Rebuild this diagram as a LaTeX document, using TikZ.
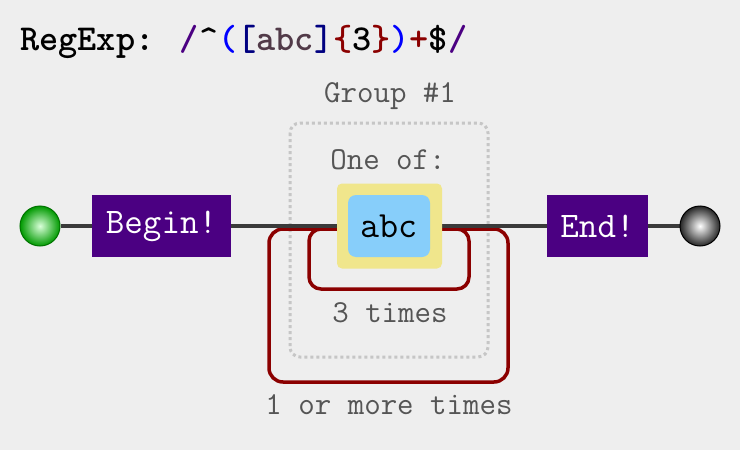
\documentclass[tikz,border=0pt]{standalone}
\usepackage{fontspec}
\usepackage{xcolor}
\usetikzlibrary{positioning,backgrounds,shapes}

\definecolor{bgcol}{HTML}{EEEEEE}
\definecolor{indigo}{HTML}{4B0082}
\definecolor{loopred}{HTML}{8B0000}
\definecolor{khaki}{HTML}{F0E68C}
\definecolor{skyblue}{HTML}{87CEFA}
\definecolor{linegray}{HTML}{3A3A3A}
\definecolor{labelgray}{HTML}{555555}
\definecolor{setchar}{HTML}{513A48}

\begin{document}
\begin{tikzpicture}[x=1pt,y=-1pt,font=\ttfamily,
		term/.style={fill=indigo, text=white, minimum height=62pt, inner sep=0pt,
		font=\ttfamily\fontsize{36}{40}\selectfont},
		label/.style={text=labelgray, inner sep=0pt, font=\ttfamily\fontsize{32}{36}\selectfont},
		loopline/.style={draw=loopred, line width=3.5pt},
		mainline/.style={draw=linegray, line width=3.5pt}]
		\useasboundingbox (0,0) rectangle (740,450);
		\node[anchor=base west, inner sep=0pt, font=\ttfamily\bfseries\fontsize{36.5}{40}\selectfont]
			(title) at (20,50) {RegExp: \textcolor{indigo}{/}\textasciicircum\textcolor{blue}{(}%
			\textcolor{blue!50!black}{[}\textcolor{setchar}{abc}\textcolor{blue!50!black}{]}%
			\textcolor{loopred}{\{}3\textcolor{loopred}{\}}\textcolor{blue}{)}%
			\textcolor{loopred}{+}\$\textcolor{indigo}{/}};
		\node[circle, minimum size=40pt, inner sep=0pt, draw=green!45!black, line width=1pt,
			inner color=green!15!white, outer color=green!60!black] (start) at (40,226) {};
		\node[term, minimum width=139pt] (begin) at (161.5,226) {Begin!};
		\node[fill=khaki, rounded corners=5pt, minimum width=105pt, minimum height=85pt]
			(cset) at (389.5,226) {};
		\node[fill=skyblue, rounded corners=8pt, minimum width=82pt, minimum height=62pt,
			font=\ttfamily\fontsize{37}{40}\selectfont] (chars) at (389,226) {abc};
		\node[term, minimum width=101pt] (end) at (597.5,226) {End!};
		\node[circle, minimum size=40pt, inner sep=0pt, draw=black, line width=1pt,
			inner color=white, outer color=black!85] (stop) at (700,226) {};
		\node[label] (group) at (390,96) {Group \#1};
		\node[label] (oneof) at (388,160) {One of:};
		\node[label] (three) at (390,313) {3 times};
		\node[label] (more) at (389,405) {1 or more times};
		
		\begin{scope}[on background layer]
			\fill[bgcol] (0,0) rectangle (740,450);
			\draw[gray!45, line width=3pt, dash pattern=on 3pt off 3pt, rounded corners=10pt]
				(290,123) rectangle (488,357);
			\draw[loopline, rounded corners=12pt] (309,229) rectangle (469,289);
			\draw[loopline, rounded corners=14pt] (269,229) rectangle (508,382);
			\draw[mainline] (start) -- (begin);
			\draw[mainline] (begin) -- (cset);
			\draw[mainline] (cset) -- (end);
			\draw[mainline] (end) -- (stop);
		\end{scope}
	\end{tikzpicture}
\end{document}
